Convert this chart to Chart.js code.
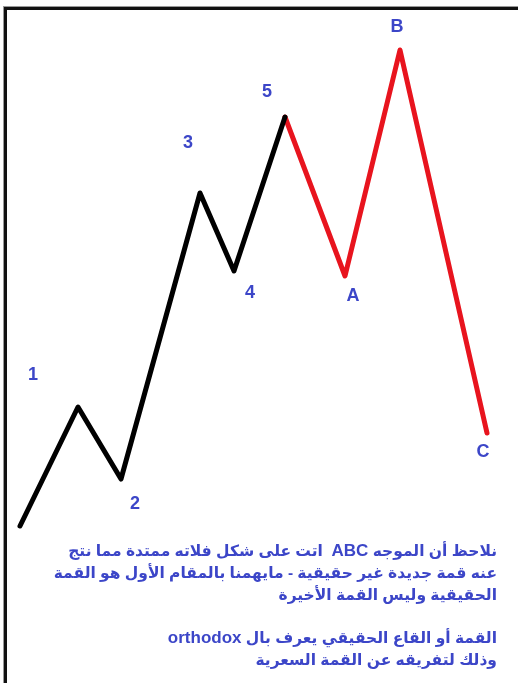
<!DOCTYPE html>
<html>
<head>
<meta charset="utf-8">
<script src="https://cdn.jsdelivr.net/npm/chart.js@4"></script>
<style>
  html, body { margin:0; padding:0; background:#fff; }
  #wrap { position:relative; width:518px; height:683px; overflow:hidden; }
  #frame { position:absolute; left:4px; top:7px; width:600px; height:700px;
           border-left:3px solid #111; border-top:3px solid #111;
           box-shadow:-1px -1px 0 #999; }
  #cv { position:absolute; left:0; top:0; }
  #note { position:absolute; right:21px; top:540px; direction:rtl; text-align:right;
          font-family:"Liberation Sans","DejaVu Sans",Arial,sans-serif; font-weight:bold;
          font-size:15.5px; color:#3c46c8; line-height:22px; white-space:nowrap; }
  #note p { margin:0; }
  #note p.gap { margin-top:21px; }
  #note .lat { font-size:17px; }
</style>
</head>
<body>
<div id="wrap">
  <div id="frame"></div>
  <div style="position:absolute;left:0;top:0;width:518px;height:683px;"><canvas id="cv"></canvas></div>
  <div id="note">
    <p>نلاحظ أن الموجه <span dir="ltr" class="lat">ABC</span>&nbsp; اتت على شكل فلاته ممتدة مما نتج</p>
    <p>عنه قمة جديدة غير حقيقية - مايهمنا بالمقام الأول هو القمة</p>
    <p>الحقيقية وليس القمة الأخيرة</p>
    <p class="gap">القمة أو القاع الحقيقي يعرف بال <span dir="ltr" class="lat">orthodox</span></p>
    <p>وذلك لتفريقه عن القمة السعرية</p>
  </div>
</div>
<script>
// Wave data (time units, price units)
const waveLabels   = ['', '1', '2', '3', '4', '5', 'A', 'B', 'C'];
const waveTime     = [0, 5.8, 10.1, 18.0, 21.4, 26.5, 32.5, 38.0, 46.7];
const wavePrice    = [0, 11.9, 4.7, 33.3, 25.5, 40.9, 25.0, 47.6, 9.3];
const impulseCount = 6; // points 0..5 are the impulse (black), 5..C corrective (red)

// label offsets in pixels (style, not data)
const labelOffsets = [[0,0],[-45,-32],[14,25],[-12,-50],[16,22],[-18,-25],[8,20],[-3,-23],[-4,19]];

const impulse = [], corrective = [];
for (let i = 0; i < waveTime.length; i++) {
  const p = {x: waveTime[i], y: wavePrice[i]};
  if (i < impulseCount) impulse.push(p);
  if (i >= impulseCount - 1) corrective.push(p);
}

const labelPlugin = {
  id: 'waveLabels',
  afterDatasetsDraw(chart) {
    const ctx = chart.ctx;
    const xs = chart.scales.x, ys = chart.scales.y;
    ctx.save();
    ctx.font = 'bold 18px "Liberation Sans", Arial, sans-serif';
    ctx.fillStyle = '#3c46c8';
    ctx.textAlign = 'center';
    ctx.textBaseline = 'middle';
    for (let i = 0; i < waveLabels.length; i++) {
      if (!waveLabels[i]) continue;
      const px = xs.getPixelForValue(waveTime[i]) + labelOffsets[i][0];
      const py = ys.getPixelForValue(wavePrice[i]) + labelOffsets[i][1];
      ctx.fillText(waveLabels[i], px, py);
    }
    ctx.restore();
  }
};

const cv = document.getElementById('cv');
new Chart(cv, {
  type: 'line',
  data: {
    datasets: [
      { data: impulse, borderColor: '#000', borderWidth: 5, pointRadius: 0, tension: 0,
        borderJoinStyle: 'round', borderCapStyle: 'round', clip: false },
      { data: corrective, borderColor: '#e8141e', borderWidth: 5, pointRadius: 0, tension: 0,
        borderJoinStyle: 'round', borderCapStyle: 'round', clip: false }
    ]
  },
  options: {
    responsive: true,
    maintainAspectRatio: false,
    animation: false,
    layout: { padding: 0 },
    plugins: { legend: { display: false }, tooltip: { enabled: false } },
    scales: {
      x: { type: 'linear', display: false, min: -2, max: 49.8 },
      y: { type: 'linear', display: false, min: -15.7, max: 52.6 }
    }
  },
  plugins: [labelPlugin]
});
</script>
</body>
</html>
